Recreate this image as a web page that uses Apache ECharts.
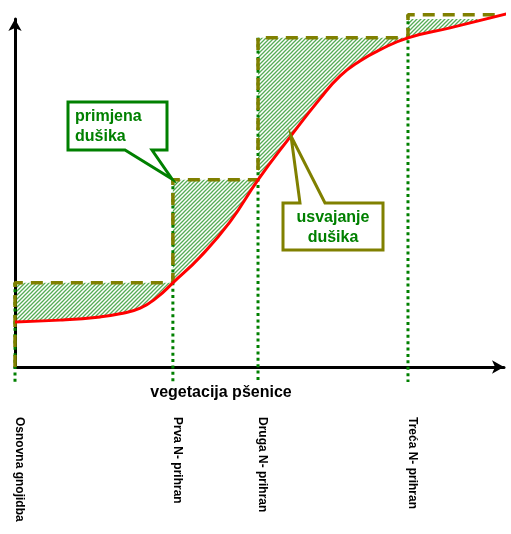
<!DOCTYPE html>
<html>
<head>
<meta charset="utf-8">
<script src="https://cdn.jsdelivr.net/npm/echarts@6/dist/echarts.min.js"></script>
<style>
  html, body { margin: 0; padding: 0; background: #fff; }
  #chart { width: 511px; height: 534px; }
</style>
</head>
<body>
<div id="chart"></div>
<script>
// faze prihrane (x položaj) i razina dušika nakon svake prihrane
var stageNames = ['Osnovna gnojidba', 'Prva N- prihran', 'Druga N- prihran', 'Treća N- prihran'];
var stageX = [0, 31.9, 49.1, 79.4];
var stepLevels = [23.7, 52.7, 92.7, 99.2];
var stepEndX = 98;

// krivulja usvajanja dušika
var curveX = [0, 9.1, 17.2, 21.2, 25.3, 28.7, 31.9, 37.4, 43.4, 49.1, 55.6, 61.6, 65.7, 69.7, 73.7, 79.4, 87.9, 100];
var curveY = [12.7, 13.2, 14.1, 15.0, 16.6, 19.6, 23.7, 31.0, 40.8, 52.7, 64.8, 75.5, 82.0, 86.2, 89.3, 92.7, 95.5, 99.7];

var font = 'Liberation Sans, Arial, sans-serif';

var myChart = echarts.init(document.getElementById('chart'));

// stepenasta linija primjene dušika
var stepData = [[stageX[0], 0]];
for (var i = 0; i < stageX.length; i++) {
	var nextX = i < stageX.length - 1 ? stageX[i + 1] : stepEndX;
	stepData.push([stageX[i], stepLevels[i]]);
	stepData.push([nextX, stepLevels[i]]);
}
var curveData = curveX.map(function (x, k) { return [x, curveY[k]]; });

// šrafura
var hatch = document.createElement('canvas');
hatch.width = 4;
hatch.height = 4;
var hc = hatch.getContext('2d');
hc.fillStyle = '#fff';
hc.fillRect(0, 0, 4, 4);
hc.strokeStyle = 'rgb(85,172,85)';
hc.lineWidth = 1.3;
hc.beginPath();
hc.moveTo(-1, 5); hc.lineTo(5, -1);
hc.moveTo(-3, 3); hc.lineTo(3, -3);
hc.moveTo(1, 7); hc.lineTo(7, 1);
hc.stroke();

var axisStyle = {
	z: 3,
	type: 'value',
	min: 0,
	axisLine: {
		show: true,
		lineStyle: { color: '#000', width: 3 },
		symbol: ['none', 'arrow'],
		symbolSize: [10, 12]
	},
	axisTick: { show: false },
	axisLabel: { show: false },
	splitLine: { show: false }
};

var option = {
	animation: false,
	grid: { left: 15, right: 7, top: 19, bottom: 167 },
	xAxis: Object.assign({}, axisStyle, { max: 98.8 }),
	yAxis: Object.assign({}, axisStyle, { max: 98 }),
	series: [
		{
			// šrafirana površina ispod primjene
			type: 'line',
			z: 1,
			silent: true,
			data: stepData.slice(1),
			symbol: 'none',
			lineStyle: { width: 0 },
			areaStyle: { color: { image: hatch, repeat: 'repeat' }, opacity: 1, origin: 10 }
		},
		{
			// ispod krivulje usvajanja bez šrafure
			type: 'line',
			z: 2,
			silent: true,
			data: curveData,
			symbol: 'none',
			smooth: 0.5,
			clip: false,
			lineStyle: { width: 0 },
			areaStyle: { color: '#fff', opacity: 1, origin: 7 }
		},
		{
			// okomite točkaste linije i nazivi faza
			type: 'custom',
			z: 4,
			silent: true,
			data: stageX.map(function (x, k) { return [x, stepLevels[k]]; }),
			renderItem: function (params, api) {
				var top = api.coord([api.value(0), api.value(1)]);
				var base = api.coord([api.value(0), 0]);
				return {
					type: 'group',
					children: [
						{
							type: 'line',
							shape: { x1: top[0], y1: top[1], x2: top[0], y2: base[1] + 15 },
							style: { stroke: '#008000', lineWidth: 3, lineDash: [3, 3.4] }
						},
						{
							type: 'text',
							x: top[0] + 4,
							y: base[1] + 50,
							rotation: -Math.PI / 2,
							style: {
								text: stageNames[params.dataIndex],
								font: 'bold 12px ' + font,
								fill: '#000',
								align: 'left',
								verticalAlign: 'middle'
							}
						}
					]
				};
			}
		},
		{
			type: 'line',
			z: 5,
			data: stepData,
			symbol: 'none',
			clip: false,
			lineStyle: { color: '#808000', width: 3.5, type: [12, 8] }
		},
		{
			type: 'line',
			z: 6,
			data: curveData,
			symbol: 'none',
			smooth: 0.5,
			clip: false,
			lineStyle: { color: '#ff0000', width: 3 }
		}
	],
	graphic: [
		{
			type: 'text', x: 221, y: 393, z: 10,
			style: { text: 'vegetacija pšenice', font: 'bold 16px ' + font, fill: '#000',
				align: 'center', textAlign: 'center', verticalAlign: 'middle', textVerticalAlign: 'middle' }
		},
		{
			type: 'polygon', z: 20,
			shape: { points: [[68, 102], [167, 102], [167, 150], [152, 150], [172, 179], [125, 150], [68, 150]] },
			style: { fill: '#fff', stroke: '#008000', lineWidth: 3 }
		},
		{
			type: 'text', x: 75, y: 117, z: 21,
			style: { text: 'primjena', font: 'bold 16px ' + font, fill: '#008000',
				verticalAlign: 'middle', textVerticalAlign: 'middle' }
		},
		{
			type: 'text', x: 75, y: 137, z: 21,
			style: { text: 'dušika', font: 'bold 16px ' + font, fill: '#008000',
				verticalAlign: 'middle', textVerticalAlign: 'middle' }
		},
		{
			type: 'polygon', z: 20,
			shape: { points: [[283, 203], [300, 203], [291, 136], [325, 203], [383, 203], [383, 250], [283, 250]] },
			style: { fill: '#fff', stroke: '#808000', lineWidth: 3 }
		},
		{
			type: 'text', x: 333, y: 218, z: 21,
			style: { text: 'usvajanje', font: 'bold 16px ' + font, fill: '#008000',
				align: 'center', textAlign: 'center', verticalAlign: 'middle', textVerticalAlign: 'middle' }
		},
		{
			type: 'text', x: 333, y: 238, z: 21,
			style: { text: 'dušika', font: 'bold 16px ' + font, fill: '#008000',
				align: 'center', textAlign: 'center', verticalAlign: 'middle', textVerticalAlign: 'middle' }
		}
	]
};

myChart.setOption(option, true);
</script>
</body>
</html>
